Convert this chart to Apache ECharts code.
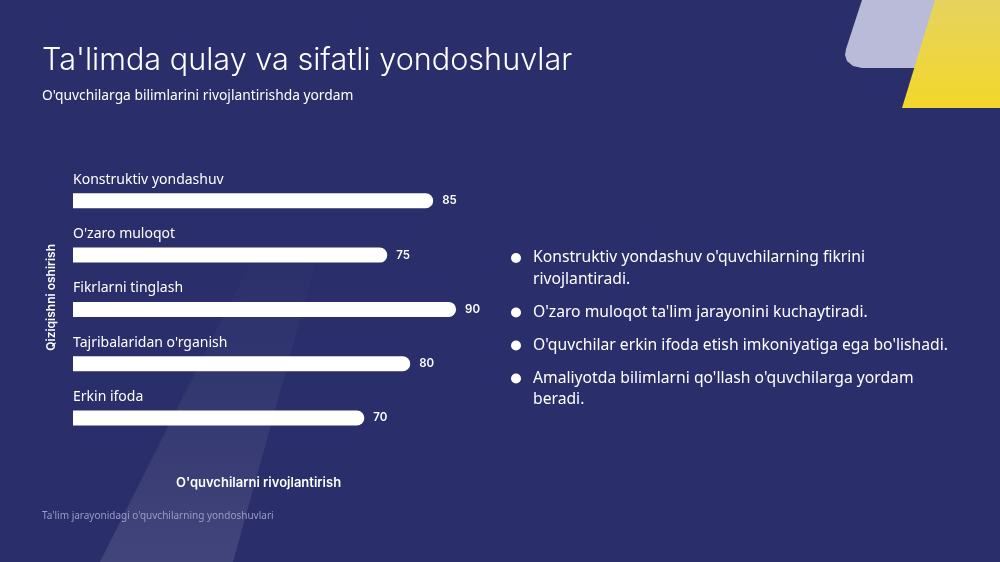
<!DOCTYPE html>
<html>
<head>
<meta charset="utf-8">
<script src="https://cdn.jsdelivr.net/npm/echarts@6/dist/echarts.min.js"></script>
<style>
html,body{margin:0;padding:0;background:#2a2e6a;}
#chart{width:1000px;height:562px;}
</style>
</head>
<body>
<div id="chart"></div>
<script>
const titleText = "Ta'limda qulay va sifatli yondoshuvlar";
const subtitleText = "O'quvchilarga bilimlarini rivojlantirishda yordam";
const footerText = "Ta'lim jarayonidagi o'quvchilarning yondoshuvlari";
const categories = ["Konstruktiv yondashuv", "O'zaro muloqot", "Fikrlarni tinglash", "Tajribalaridan o'rganish", "Erkin ifoda"];
const values = [85, 75, 90, 80, 70];
const xAxisName = "O'quvchilarni rivojlantirish";
const yAxisName = "Qiziqishni oshirish";
const bullets = [
  ["Konstruktiv yondashuv o'quvchilarning fikrini", "rivojlantiradi."],
  ["O'zaro muloqot ta'lim jarayonini kuchaytiradi."],
  ["O'quvchilar erkin ifoda etish imkoniyatiga ega bo'lishadi."],
  ["Amaliyotda bilimlarni qo'llash o'quvchilarga yordam", "beradi."]
];

const chart = echarts.init(document.getElementById('chart'), null, {renderer: 'canvas'});

const bulletGraphics = [];
let by = 258;
bullets.forEach(lines => {
  bulletGraphics.push({type: 'circle', shape: {cx: 516, cy: by, r: 5}, style: {fill: '#ffffff'}, z: 10});
  lines.forEach((ln, i) => {
    bulletGraphics.push({type: 'text', x: 533, y: by + i * 21.5, style: {text: ln, fill: '#ffffff', font: '15.7px "Noto Sans"', textVerticalAlign: 'middle'}, z: 10});
  });
  by += (lines.length - 1) * 21.5 + 33;
});

const option = {
  backgroundColor: '#2a2e6a',
  animation: false,
  title: [
    {text: titleText, left: 37, top: 40, textStyle: {color: '#ffffff', fontFamily: 'Inter', fontWeight: 300, fontSize: 30.6}},
    {text: subtitleText, left: 37, top: 84, textStyle: {color: '#ffffff', fontFamily: 'Noto Sans', fontWeight: 'normal', fontSize: 13.8}},
    {text: footerText, left: 37, top: 506, textStyle: {color: '#9a9cc8', fontFamily: 'Noto Sans', fontWeight: 'normal', fontSize: 10}}
  ],
  graphic: [
    {type: 'polygon', z: -10, shape: {points: [[262, 240], [322, 240], [233, 562], [100, 562]]},
      style: {fill: new echarts.graphic.LinearGradient(0, 0, 0, 1, [{offset: 0, color: 'rgba(255,255,255,0)'}, {offset: 0.4, color: 'rgba(255,255,255,0.04)'}, {offset: 1, color: 'rgba(255,255,255,0.11)'}])}},
    {type: 'polygon', z: -5, shape: {points: [[862, 0], [985, 0], [960, 68], [862, 68], [853, 66], [847, 61], [845, 55], [846, 49]]}, style: {fill: '#b9bbd8'}},
    {type: 'polygon', z: -4, shape: {points: [[935, 0], [1000, 0], [1000, 108], [902, 108]]},
      style: {fill: new echarts.graphic.LinearGradient(0, 0, 0, 1, [{offset: 0, color: '#e6d35e'}, {offset: 1, color: '#f3d72a'}])}},
    ...bulletGraphics
  ],
  grid: {left: 73, right: 498, top: 173.6, height: 271.6, containLabel: false},
  xAxis: {
    type: 'value', min: 6.5, max: 100,
    splitLine: {show: false}, axisLine: {show: false}, axisTick: {show: false}, axisLabel: {show: false},
    name: xAxisName, nameLocation: 'middle', nameGap: 31,
    nameTextStyle: {color: '#ffffff', fontFamily: 'Inter', fontWeight: 600, fontSize: 13, padding: [0, 58, 0, 0]}
  },
  yAxis: {
    type: 'category', data: categories, inverse: true,
    axisLine: {show: false}, axisTick: {show: false}, splitLine: {show: false},
    axisLabel: {inside: true, margin: 0, color: '#ffffff', fontFamily: 'Noto Sans', fontSize: 14, verticalAlign: 'bottom', padding: [0, 0, 14, 0]},
    name: yAxisName, nameLocation: 'middle', nameGap: 16, nameRotate: 90,
    nameTextStyle: {color: '#ffffff', fontFamily: 'Inter', fontWeight: 600, fontSize: 12, padding: [0, 0, 0, 24]}
  },
  series: [{
    type: 'bar', data: values, barWidth: 15,
    itemStyle: {color: '#ffffff', borderRadius: [0, 7.5, 7.5, 0]},
    label: {show: true, position: 'right', distance: 9, color: '#ffffff', fontFamily: 'Inter', fontWeight: 600, fontSize: 11.5}
  }]
};
chart.setOption(option);
</script>
</body>
</html>
